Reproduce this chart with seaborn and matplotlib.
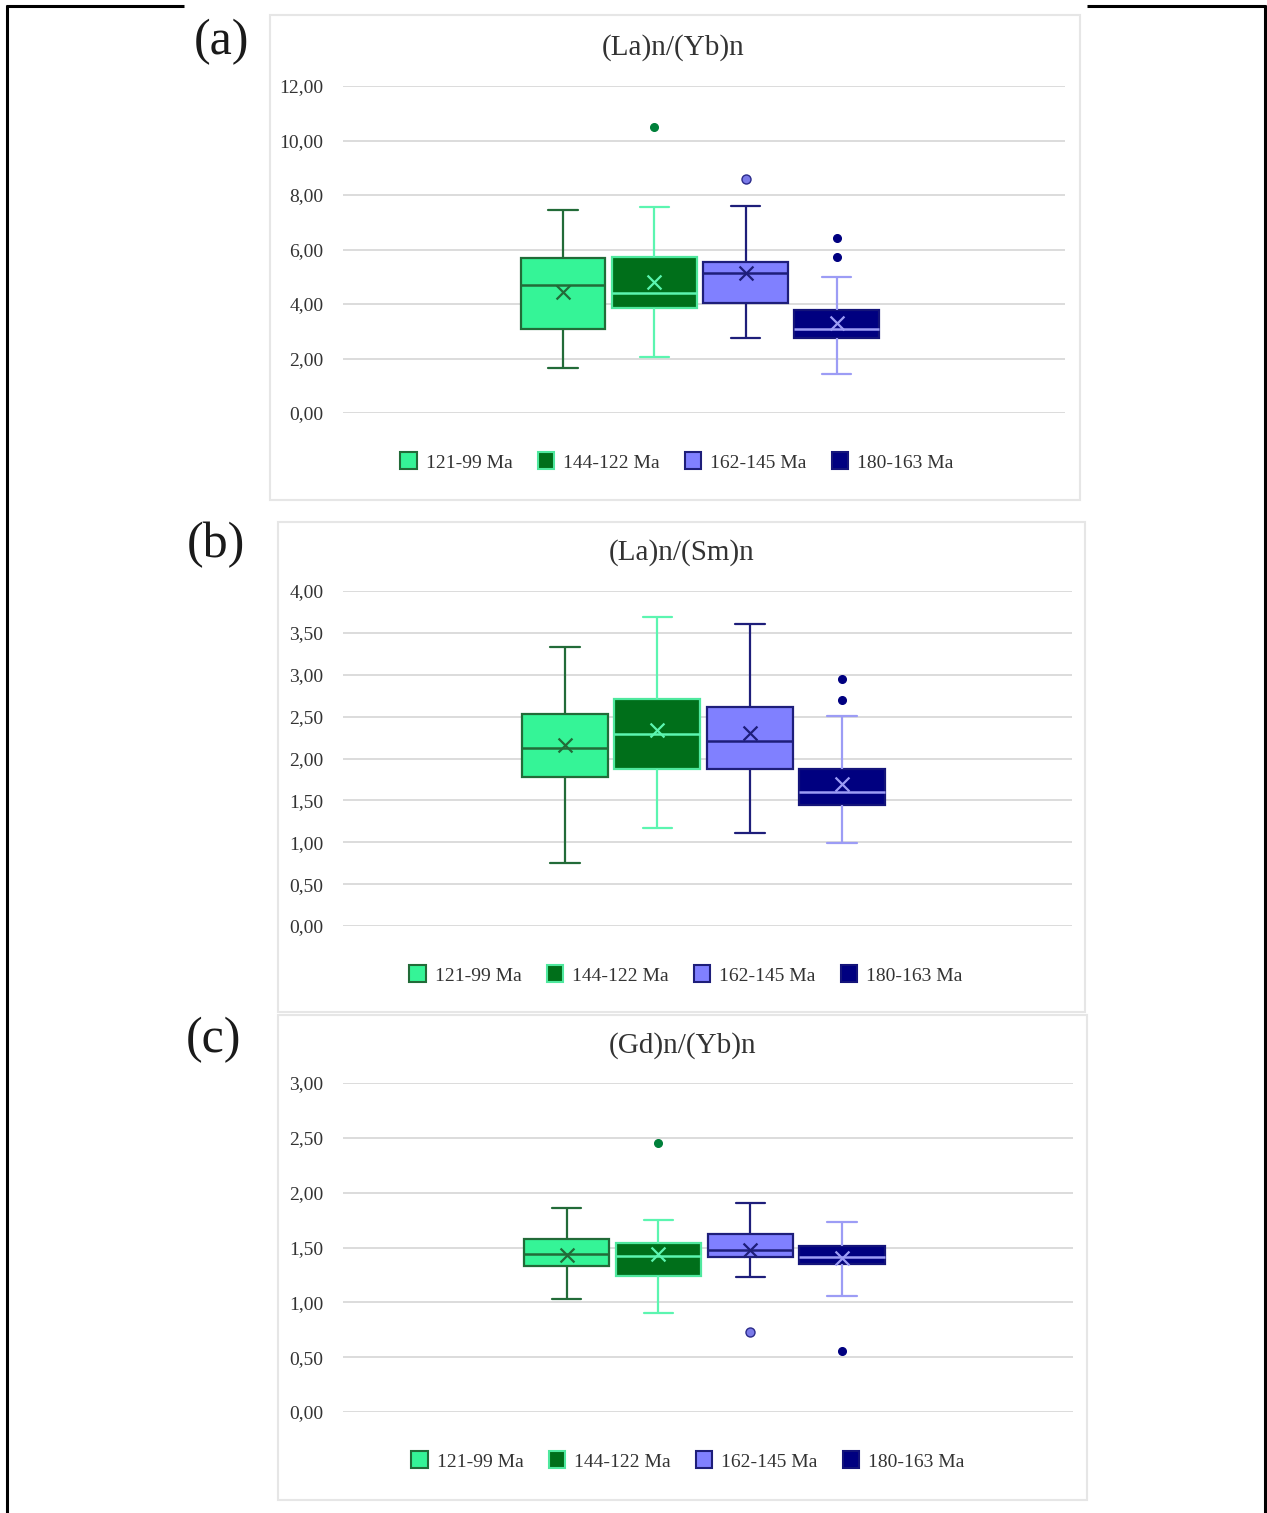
import numpy as np
import pandas as pd
import matplotlib
matplotlib.use("Agg")
import matplotlib.pyplot as plt
from matplotlib.patches import Rectangle, Patch
from matplotlib.lines import Line2D
from matplotlib.ticker import FuncFormatter, MultipleLocator
import seaborn as sns

# ---------------------------------------------------------------- data
groups = ["121-99 Ma", "144-122 Ma", "162-145 Ma", "180-163 Ma"]

# five-number summaries per group: [lower whisker, Q1, median, Q3, upper whisker]
la_yb_summary = [
    [1.66, 3.07, 4.70, 5.70, 7.45],
    [2.07, 3.87, 4.39, 5.74, 7.57],
    [2.74, 4.05, 5.12, 5.55, 7.60],
    [1.42, 2.74, 3.07, 3.78, 4.98],
]
la_yb_mean = [4.45, 4.82, 5.12, 3.29]
la_yb_outliers = [[], [10.51], [8.57], [6.41, 5.74]]

la_sm_summary = [
    [0.75, 1.78, 2.13, 2.53, 3.33],
    [1.17, 1.88, 2.29, 2.71, 3.69],
    [1.11, 1.88, 2.21, 2.61, 3.61],
    [0.99, 1.45, 1.60, 1.87, 2.51],
]
la_sm_mean = [2.16, 2.34, 2.30, 1.70]
la_sm_outliers = [[], [], [], [2.95, 2.70]]

gd_yb_summary = [
    [1.03, 1.33, 1.44, 1.58, 1.86],
    [0.90, 1.24, 1.42, 1.54, 1.75],
    [1.23, 1.41, 1.48, 1.62, 1.91],
    [1.06, 1.35, 1.41, 1.51, 1.73],
]
gd_yb_mean = [1.43, 1.44, 1.48, 1.40]
gd_yb_outliers = [[], [2.45], [0.73], [0.56]]

titles = ["(La)n/(Yb)n", "(La)n/(Sm)n", "(Gd)n/(Yb)n"]
panel_tags = ["(a)", "(b)", "(c)"]
y_max = [12.0, 4.0, 3.0]
y_step = [2.0, 0.5, 0.5]

# ---------------------------------------------------------------- style
fill_colors = ["#35F497", "#006F1A", "#8080FF", "#000080"]
line_colors = ["#226B38", "#5CF5B0", "#1E1E7A", "#9C9CF5"]
box_edges = ["#226B38", "#4FE89E", "#1E1E7A", "#14147A"]
outlier_colors = ["#226B38", "#00803A", "#7A7AE8", "#000080"]
outlier_edges = ["#226B38", "#00803A", "#2A2A8A", "#000080"]
outlier_sizes = [5.5, 5.5, 6.5, 5.5]

sns.set_theme(style="white")
plt.rcParams["font.family"] = ["Liberation Serif", "DejaVu Serif"]

W, H = 1267, 1513
fig = plt.figure(figsize=(W / 100, H / 100), dpi=100)
fig.patch.set_facecolor("white")


def fx(px):
    return px / W


def fy(py):
    return 1 - py / H


# page frame lines
frame_kw = dict(color="black", lw=2.2, transform=fig.transFigure, solid_capstyle="butt")
fig.add_artist(Line2D([fx(7), fx(7)], [fy(5), fy(1513)], **frame_kw))
fig.add_artist(Line2D([fx(1265), fx(1265)], [fy(5), fy(1513)], **frame_kw))
fig.add_artist(Line2D([fx(6), fx(184)], [fy(6), fy(6)], **frame_kw))
fig.add_artist(Line2D([fx(1087), fx(1266)], [fy(6), fy(6)], **frame_kw))

# pixel layout of the three chart blocks
chart_boxes = [(270, 15, 1080, 500), (278, 522, 1085, 1012), (278, 1015, 1087, 1500)]
plot_boxes = [(343, 86, 1065, 413), (343, 591, 1072, 926), (343, 1083, 1073, 1412)]
x_limits = [(-2.41, 5.50), (-2.405, 5.49), (-2.44, 5.52)]
title_pos = [(673, 48), (682, 553), (683, 1046)]
tag_pos = [(222, 42), (216, 545), (214, 1040)]
legend_pos = [(677, 462), (686, 975), (688, 1461)]

summaries = [la_yb_summary, la_sm_summary, gd_yb_summary]
means = [la_yb_mean, la_sm_mean, gd_yb_mean]
outliers = [la_yb_outliers, la_sm_outliers, gd_yb_outliers]

comma_fmt = FuncFormatter(lambda v, p: f"{v:.2f}".replace(".", ","))

for k in range(3):
    cx0, cy0, cx1, cy1 = chart_boxes[k]
    fig.add_artist(Rectangle((fx(cx0), fy(cy1)), fx(cx1 - cx0), (cy1 - cy0) / H,
                             transform=fig.transFigure, fill=False,
                             edgecolor="#E6E6E6", lw=1.5))

    px0, py0, px1, py1 = plot_boxes[k]
    ax = fig.add_axes([fx(px0), fy(py1), fx(px1 - px0), (py1 - py0) / H])
    ax.set_facecolor("none")

    long = pd.DataFrame({
        "group": np.repeat(groups, 5),
        "value": np.concatenate(summaries[k]),
    })
    for i, g in enumerate(groups):
        sub = long[long["group"] == g]
        lc = line_colors[i]
        sns.boxplot(data=sub, x="group", y="value", order=groups, ax=ax,
                    whis=(0, 100), width=0.93, saturation=1,
                    color=fill_colors[i], linecolor=lc, linewidth=1.6,
                    boxprops=dict(facecolor=fill_colors[i], edgecolor=box_edges[i],
                                  linewidth=1.6),
                    whiskerprops=dict(color=lc, linewidth=1.6),
                    capprops=dict(color=lc, linewidth=1.6),
                    medianprops=dict(color=lc, linewidth=1.8),
                    capwidths=0.32)
        # mean markers
        sns.stripplot(x=[g], y=[means[k][i]], order=groups, ax=ax, jitter=False,
                      marker="x", color=lc, size=10, linewidth=1.6)
        # outliers
        if outliers[k][i]:
            sns.stripplot(x=[g] * len(outliers[k][i]), y=outliers[k][i], order=groups,
                          ax=ax, jitter=False, color=outlier_colors[i],
                          size=outlier_sizes[i], edgecolor=outlier_edges[i],
                          linewidth=1.0)

    ax.set_xlim(*x_limits[k])
    ax.set_ylim(0, y_max[k])
    ax.yaxis.set_major_locator(MultipleLocator(y_step[k]))
    ax.yaxis.set_major_formatter(comma_fmt)
    ax.grid(axis="y", color="#D9D9D9", lw=1.3)
    ax.grid(axis="x", visible=False)
    ax.set_axisbelow(True)
    for s in ax.spines.values():
        s.set_visible(False)
    ax.set_xticks([])
    ax.set_xlabel("")
    ax.set_ylabel("")
    ax.tick_params(axis="y", length=0, pad=14, labelsize=14, labelcolor="#333333")
    for lab in ax.get_yticklabels():
        lab.set_fontfamily(["Liberation Serif", "DejaVu Serif"])

    fig.text(fx(title_pos[k][0]), fy(title_pos[k][1]), titles[k], ha="center",
             va="center", fontsize=21, color="#333333")
    fig.text(fx(tag_pos[k][0]), fy(tag_pos[k][1]), panel_tags[k], ha="center",
             va="center", fontsize=36, color="#1A1A1A")

    handles = [Patch(facecolor=fill_colors[i], edgecolor=box_edges[i],
                     lw=1.5, label=g) for i, g in enumerate(groups)]
    fig.legend(handles=handles, loc="center", ncol=4, frameon=False,
               bbox_to_anchor=(fx(legend_pos[k][0]), fy(legend_pos[k][1])),
               bbox_transform=fig.transFigure, fontsize=14, handlelength=0.85,
               handleheight=0.95, handletextpad=0.45, columnspacing=1.3,
               labelcolor="#333333")

fig.savefig("out.png", dpi=100, facecolor="white")
